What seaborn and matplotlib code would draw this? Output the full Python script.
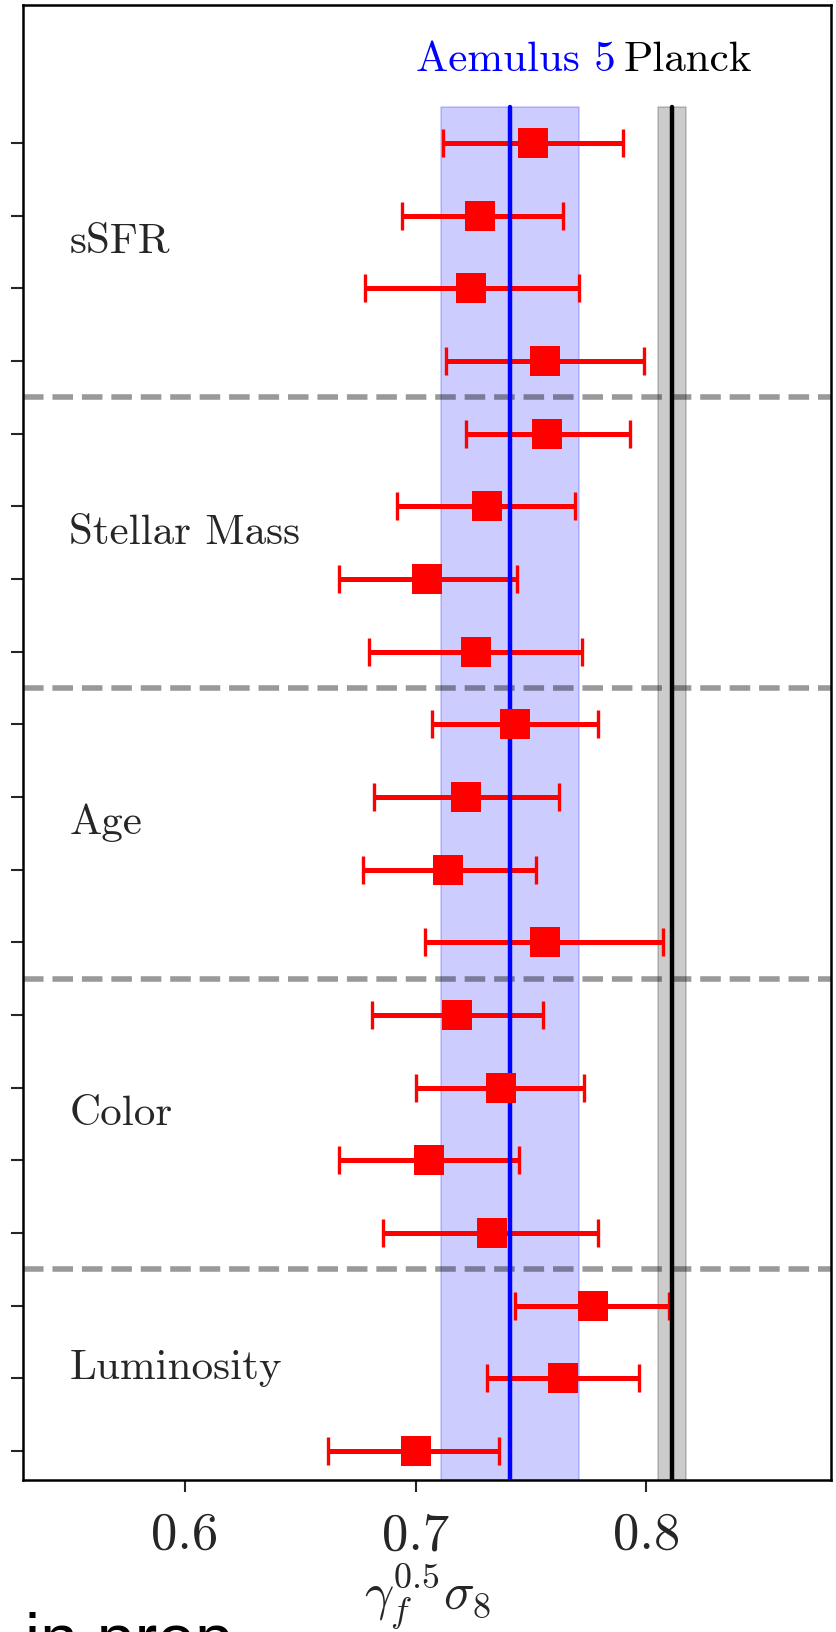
import numpy as np
import pandas as pd
import matplotlib
matplotlib.use("Agg")
import matplotlib.pyplot as plt
import seaborn as sns

sns.set_style("ticks")
plt.rcParams["font.family"] = ["cmr10", "DejaVu Serif"]
plt.rcParams["mathtext.fontset"] = "cm"
plt.rcParams["axes.formatter.use_mathtext"] = True

# galaxy samples and the number of bins in each (top to bottom)
samples = ["sSFR", "Stellar Mass", "Age", "Color", "Luminosity"]
bins_per_sample = [4, 4, 4, 4, 3]

# best-fit gamma_f^0.5 sigma_8 per bin, with lower / upper 1-sigma bounds
best_fit = [0.751, 0.728, 0.724, 0.756,
            0.757, 0.731, 0.705, 0.726,
            0.743, 0.722, 0.714, 0.756,
            0.718, 0.737, 0.706, 0.733,
            0.777, 0.764, 0.700]
lower = [0.712, 0.694, 0.678, 0.713,
         0.722, 0.692, 0.667, 0.680,
         0.707, 0.682, 0.677, 0.704,
         0.681, 0.700, 0.667, 0.686,
         0.743, 0.731, 0.662]
upper = [0.790, 0.764, 0.771, 0.799,
         0.793, 0.769, 0.744, 0.772,
         0.779, 0.762, 0.752, 0.807,
         0.755, 0.773, 0.745, 0.779,
         0.810, 0.797, 0.736]

# reference constraints: (central value, 1-sigma half width)
aemulus = (0.741, 0.030)
planck = (0.811, 0.006)

xticks = [0.6, 0.7, 0.8]
xtick_labels = ["0.6", "0.7", "0.8"]

n_pts = len(best_fit)
ypos = np.arange(n_pts)[::-1]
sample_col = np.repeat(samples, bins_per_sample)
df = pd.DataFrame({"sample": sample_col, "value": best_fit,
                   "lo": lower, "hi": upper, "y": ypos})

fig = plt.figure(figsize=(8.37, 16.33), dpi=100)
ax = fig.add_axes([0.0278, 0.0931, 0.9650, 0.9032])

band_top = n_pts - 0.5
ax.fill_betweenx([-1, band_top], aemulus[0] - aemulus[1], aemulus[0] + aemulus[1],
                 color="blue", alpha=0.2, lw=1.2, zorder=1)
ax.fill_betweenx([-1, band_top], planck[0] - planck[1], planck[0] + planck[1],
                 color="k", alpha=0.2, lw=1.2, zorder=1)

# separators between samples
edges = np.cumsum(bins_per_sample)[:-1]
for e in edges:
    ax.axhline(n_pts - e - 0.5, color="k", alpha=0.4, ls="--", lw=4, zorder=2)

ax.errorbar(df["value"], df["y"],
            xerr=[df["value"] - df["lo"], df["hi"] - df["value"]],
            fmt="none", ecolor="red", elinewidth=3.6, capsize=10, capthick=2.4,
            zorder=3)

ax.plot([aemulus[0]] * 2, [-1, band_top], color="blue", lw=3.2, zorder=4)
ax.plot([planck[0]] * 2, [-1, band_top], color="k", lw=3.2, zorder=4)

sns.scatterplot(data=df, x="value", y="y", marker="s", s=440, color="red",
                linewidth=0, zorder=5, ax=ax, legend=False)

# sample names at the centre of each group
for name, grp in df.groupby("sample", sort=False):
    ax.text(0.55, grp["y"].mean(), name, fontsize=31, va="baseline", ha="left")

ax.text(0.70, n_pts, "Aemulus 5", color="blue", fontsize=31, va="baseline")
ax.text(0.79, n_pts, "Planck", color="k", fontsize=31, va="baseline")

ax.set_xlim(0.53, 0.88)
ax.set_ylim(-0.4, 19.9)
ax.set_yticks(ypos)
ax.set_yticklabels([])
ax.set_xticks(xticks)
ax.set_xticklabels(xtick_labels, fontsize=38)
ax.tick_params(axis="both", direction="out", length=8.5, width=1.5, pad=14)
for sp in ax.spines.values():
    sp.set_linewidth(1.8)
    sp.set_color("k")
ax.set_xlabel(r"$\gamma_f^{0.5}\sigma_8$", fontsize=37, labelpad=2)
ax.set_ylabel("")

fig.text(25 / 837, -0.0180, "in prep", fontsize=49,
         family=["Liberation Sans", "DejaVu Sans"], color="k")

fig.savefig("out.png", dpi=100)
